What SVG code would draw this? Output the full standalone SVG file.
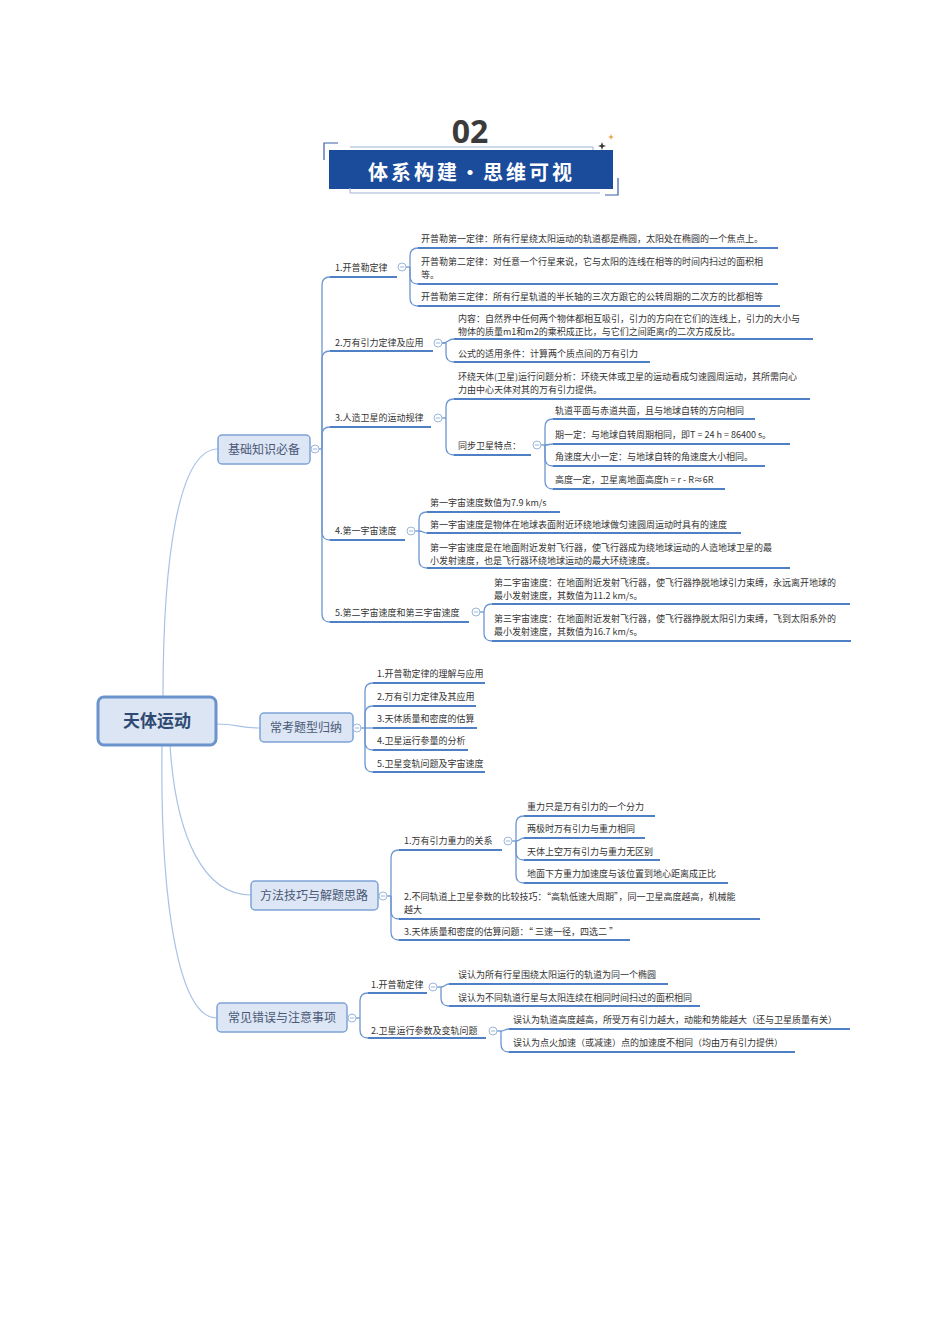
<svg xmlns="http://www.w3.org/2000/svg" width="950" height="1344" viewBox="0 0 950 1344">
<style>
text{font-family:"Noto Sans CJK SC","Liberation Sans",sans-serif;}
.t{font-size:9px;fill:#333;}
.b1{fill:#dce6f4;stroke:#7ea3d6;stroke-width:1.5;}
.b1t{font-size:12px;fill:#4a5876;}
.ul{stroke:#4f7fc4;stroke-width:2;fill:none;}
.cn{stroke:#6d96d2;stroke-width:1.3;fill:none;}
.rc{stroke:#a8c2e6;stroke-width:1.2;fill:none;}
.col{fill:#fff;stroke:#9cb6dc;stroke-width:1;}
.cm{stroke:#9cb6dc;stroke-width:1;}
</style>
<defs>
<g id="minus"><circle class="col" r="4"/><line class="cm" x1="-2.2" y1="0" x2="2.2" y2="0"/></g>
</defs>
<rect width="950" height="1344" fill="#fff"/>

<g id="header">
<text x="470" y="143" text-anchor="middle" style="font-family:'Open Sans','Liberation Sans',sans-serif;font-size:32px;font-weight:bold;fill:#3b3b3b">02</text>
<path d="M324,160 V143 H338" fill="none" stroke="#3a5fa8" stroke-width="1.2"/>
<path d="M350,147 H593 V152" fill="none" stroke="#9fb3d6" stroke-width="1"/>
<rect x="329" y="150" width="284" height="39" fill="#1b4b9b"/>
<path d="M350,188 V193 H600" fill="none" stroke="#9fb3d6" stroke-width="1"/>
<path d="M605,195 H618 V178" fill="none" stroke="#3a5fa8" stroke-width="1.2"/>
<path d="M602,142 L603,145 L606,146 L603,147 L602,150 L601,147 L598,146 L601,145 Z" fill="#333"/>
<path d="M611,134 L611.8,136.2 L614,137 L611.8,137.8 L611,140 L610.2,137.8 L608,137 L610.2,136.2 Z" fill="#e8a040"/>
<text x="368" y="180" style="font-family:'Noto Sans CJK SC',sans-serif;font-size:20px;font-weight:bold;fill:#fff;letter-spacing:3px">体系构建・思维可视</text>
</g>

<g id="connectors">
<path class="rc" d="M163,697 C163,560 178,449 218,449"/>
<path class="rc" d="M216,724 C240,724 238,728 260,728"/>
<path class="rc" d="M170,745 C176,840 205,895 251,895"/>
<path class="rc" d="M162,745 C160,900 178,1018 217,1018"/>
<path class="cn" d="M319,449 H322"/>
<path class="cn" d="M322,449 V285 Q322,277 330,277"/>
<path class="cn" d="M322,449 V359 Q322,351 330,351"/>
<path class="cn" d="M322,449 V435 Q322,427 330,427"/>
<path class="cn" d="M322,449 V532 Q322,540 330,540"/>
<path class="cn" d="M322,449 V614 Q322,622 330,622"/>
<path class="cn" d="M406,267 H410"/>
<path class="cn" d="M410,267 V256 Q410,248 418,248"/>
<path class="cn" d="M410,267 V276 Q410,284 418,284"/>
<path class="cn" d="M410,267 V298 Q410,306 418,306"/>
<path class="cn" d="M442,343 C449,343 447,339 454,339"/>
<path class="cn" d="M442,343 H446 V354 Q446,362 454,362"/>
<path class="cn" d="M442,418 H446"/>
<path class="cn" d="M446,418 V407 Q446,399 454,399"/>
<path class="cn" d="M446,418 V447 Q446,455 454,455"/>
<path class="cn" d="M541,445 H545"/>
<path class="cn" d="M545,445 V427 Q545,419 553,419"/>
<path class="cn" d="M545,445 C549,445 549,444 553,444"/>
<path class="cn" d="M545,445 V458 Q545,466 553,466"/>
<path class="cn" d="M545,445 V481 Q545,489 553,489"/>
<path class="cn" d="M415,531 H419"/>
<path class="cn" d="M419,531 V520 Q419,512 427,512"/>
<path class="cn" d="M419,531 C423,531 423,533 427,533"/>
<path class="cn" d="M419,531 V560 Q419,568 427,568"/>
<path class="cn" d="M480,612 H484"/>
<path class="cn" d="M484,612 Q484,604 492,604"/>
<path class="cn" d="M484,612 V633 Q484,641 492,641"/>
<path class="cn" d="M361,728 H365"/>
<path class="cn" d="M365,728 V691 Q365,683 373,683"/>
<path class="cn" d="M365,728 V714 Q365,706 373,706"/>
<path class="cn" d="M365,728 H373"/>
<path class="cn" d="M365,728 V742 Q365,750 373,750"/>
<path class="cn" d="M365,728 V764 Q365,772 373,772"/>
<path class="cn" d="M387,896 H391"/>
<path class="cn" d="M391,896 V858 Q391,850 399,850"/>
<path class="cn" d="M391,896 V911 Q391,919 399,919"/>
<path class="cn" d="M391,896 V932 Q391,940 399,940"/>
<path class="cn" d="M512,841 H516"/>
<path class="cn" d="M516,841 V824 Q516,816 524,816"/>
<path class="cn" d="M516,841 C520,841 520,838 524,838"/>
<path class="cn" d="M516,841 V852 Q516,860 524,860"/>
<path class="cn" d="M516,841 V875 Q516,883 524,883"/>
<path class="cn" d="M356,1018 H360"/>
<path class="cn" d="M360,1018 V1001 Q360,993 368,993"/>
<path class="cn" d="M360,1018 V1030 Q360,1038 368,1038"/>
<path class="cn" d="M437,987 H441"/>
<path class="cn" d="M441,987 C445,987 445,984 449,984"/>
<path class="cn" d="M441,987 V998 Q441,1006 449,1006"/>
<path class="cn" d="M497,1031 H501"/>
<path class="cn" d="M501,1031 C505,1031 505,1029 509,1029"/>
<path class="cn" d="M501,1031 V1044 Q501,1052 509,1052"/>
</g>

<g id="root">
<rect x="98" y="697" width="118" height="48" rx="6" fill="#dbe5f3" stroke="#6b93cc" stroke-width="3"/>
<text x="157" y="727" text-anchor="middle" style="font-size:17px;font-weight:bold;fill:#2f4a72">天体运动</text>
</g>

<g id="n-jichu">
<rect class="b1" x="218" y="435" width="92" height="29" rx="4"/>
<text class="b1t" x="264" y="454" text-anchor="middle">基础知识必备</text>
<use href="#minus" x="315" y="449"/>
</g>
<g id="n-jichu-1">
<text class="t" x="335" y="271">1.开普勒定律</text>
<line class="ul" x1="330" y1="277" x2="397" y2="277"/>
<use href="#minus" x="402" y="267"/>
</g>
<g id="n-kepler-1">
<text class="t" x="421" y="242">开普勒第一定律：所有行星绕太阳运动的轨道都是椭圆，太阳处在椭圆的一个焦点上。</text>
<line class="ul" x1="418" y1="248" x2="778" y2="248"/>
</g>
<g id="n-kepler-2">
<text class="t" x="421" y="265">开普勒第二定律：对任意一个行星来说，它与太阳的连线在相等的时间内扫过的面积相</text>
<text class="t" x="421" y="278">等。</text>
<line class="ul" x1="418" y1="284" x2="778" y2="284"/>
</g>
<g id="n-kepler-3">
<text class="t" x="421" y="300">开普勒第三定律：所有行星轨道的半长轴的三次方跟它的公转周期的二次方的比都相等</text>
<line class="ul" x1="418" y1="306" x2="780" y2="306"/>
</g>
<g id="n-jichu-2">
<text class="t" x="335" y="346">2.万有引力定律及应用</text>
<line class="ul" x1="330" y1="351" x2="433" y2="351"/>
<use href="#minus" x="438" y="343"/>
</g>
<g id="n-wanyou-1">
<text class="t" x="458" y="322">内容：自然界中任何两个物体都相互吸引，引力的方向在它们的连线上，引力的大小与</text>
<text class="t" x="458" y="335">物体的质量m1和m2的乘积成正比，与它们之间距离r的二次方成反比。</text>
<line class="ul" x1="454" y1="339" x2="813" y2="339"/>
</g>
<g id="n-wanyou-2">
<text class="t" x="458" y="357">公式的适用条件：计算两个质点间的万有引力</text>
<line class="ul" x1="454" y1="362" x2="650" y2="362"/>
</g>
<g id="n-jichu-3">
<text class="t" x="335" y="421">3.人造卫星的运动规律</text>
<line class="ul" x1="330" y1="427" x2="431" y2="427"/>
<use href="#minus" x="438" y="418"/>
</g>
<g id="n-weixing-1">
<text class="t" x="458" y="380">环绕天体(卫星)运行问题分析：环绕天体或卫星的运动看成匀速圆周运动，其所需向心</text>
<text class="t" x="458" y="393">力由中心天体对其的万有引力提供。</text>
<line class="ul" x1="454" y1="399" x2="810" y2="399"/>
</g>
<g id="n-weixing-2">
<text class="t" x="458" y="449">同步卫星特点：</text>
<line class="ul" x1="454" y1="455" x2="531" y2="455"/>
<use href="#minus" x="537" y="445"/>
</g>
<g id="n-tongbu-1">
<text class="t" x="555" y="414">轨道平面与赤道共面，且与地球自转的方向相同</text>
<line class="ul" x1="553" y1="419" x2="755" y2="419"/>
</g>
<g id="n-tongbu-2">
<text class="t" x="555" y="438">期一定：与地球自转周期相同，即T = 24 h = 86400 s。</text>
<line class="ul" x1="553" y1="444" x2="790" y2="444"/>
</g>
<g id="n-tongbu-3">
<text class="t" x="555" y="460">角速度大小一定：与地球自转的角速度大小相同。</text>
<line class="ul" x1="553" y1="466" x2="765" y2="466"/>
</g>
<g id="n-tongbu-4">
<text class="t" x="555" y="483">高度一定，卫星离地面高度h = r - R≈6R</text>
<line class="ul" x1="553" y1="489" x2="725" y2="489"/>
</g>
<g id="n-jichu-4">
<text class="t" x="335" y="534">4.第一宇宙速度</text>
<line class="ul" x1="330" y1="540" x2="405" y2="540"/>
<use href="#minus" x="411" y="531"/>
</g>
<g id="n-yuzhou1-1">
<text class="t" x="430" y="506">第一宇宙速度数值为7.9 km/s</text>
<line class="ul" x1="427" y1="512" x2="560" y2="512"/>
</g>
<g id="n-yuzhou1-2">
<text class="t" x="430" y="528">第一宇宙速度是物体在地球表面附近环绕地球做匀速圆周运动时具有的速度</text>
<line class="ul" x1="427" y1="533" x2="741" y2="533"/>
</g>
<g id="n-yuzhou1-3">
<text class="t" x="430" y="551">第一宇宙速度是在地面附近发射飞行器，使飞行器成为绕地球运动的人造地球卫星的最</text>
<text class="t" x="430" y="564">小发射速度，也是飞行器环绕地球运动的最大环绕速度。</text>
<line class="ul" x1="427" y1="568" x2="790" y2="568"/>
</g>
<g id="n-jichu-5">
<text class="t" x="335" y="616">5.第二宇宙速度和第三宇宙速度</text>
<line class="ul" x1="330" y1="622" x2="469" y2="622"/>
<use href="#minus" x="476" y="612"/>
</g>
<g id="n-yuzhou2">
<text class="t" x="494" y="586">第二宇宙速度：在地面附近发射飞行器，使飞行器挣脱地球引力束缚，永远离开地球的</text>
<text class="t" x="494" y="599">最小发射速度，其数值为11.2 km/s。</text>
<line class="ul" x1="492" y1="604" x2="850" y2="604"/>
</g>
<g id="n-yuzhou3">
<text class="t" x="494" y="622">第三宇宙速度：在地面附近发射飞行器，使飞行器挣脱太阳引力束缚，飞到太阳系外的</text>
<text class="t" x="494" y="635">最小发射速度，其数值为16.7 km/s。</text>
<line class="ul" x1="492" y1="641" x2="851" y2="641"/>
</g>

<g id="n-changkao">
<rect class="b1" x="260" y="713" width="93" height="29" rx="4"/>
<text class="b1t" x="306" y="732" text-anchor="middle">常考题型归纳</text>
<use href="#minus" x="357" y="728"/>
</g>
<g id="n-changkao-1"><text class="t" x="377" y="677">1.开普勒定律的理解与应用</text><line class="ul" x1="373" y1="683" x2="485" y2="683"/></g>
<g id="n-changkao-2"><text class="t" x="377" y="700">2.万有引力定律及其应用</text><line class="ul" x1="373" y1="706" x2="476" y2="706"/></g>
<g id="n-changkao-3"><text class="t" x="377" y="722">3.天体质量和密度的估算</text><line class="ul" x1="373" y1="728" x2="477" y2="728"/></g>
<g id="n-changkao-4"><text class="t" x="377" y="744">4.卫星运行参量的分析</text><line class="ul" x1="373" y1="750" x2="468" y2="750"/></g>
<g id="n-changkao-5"><text class="t" x="377" y="767">5.卫星变轨问题及宇宙速度</text><line class="ul" x1="373" y1="772" x2="485" y2="772"/></g>

<g id="n-fangfa">
<rect class="b1" x="251" y="881" width="127" height="29" rx="4"/>
<text class="b1t" x="314" y="900" text-anchor="middle">方法技巧与解题思路</text>
<use href="#minus" x="383" y="896"/>
</g>
<g id="n-fangfa-1">
<text class="t" x="404" y="844">1.万有引力重力的关系</text>
<line class="ul" x1="399" y1="850" x2="502" y2="850"/>
<use href="#minus" x="508" y="841"/>
</g>
<g id="n-guanxi-1"><text class="t" x="527" y="810">重力只是万有引力的一个分力</text><line class="ul" x1="524" y1="816" x2="655" y2="816"/></g>
<g id="n-guanxi-2"><text class="t" x="527" y="832">两极时万有引力与重力相同</text><line class="ul" x1="524" y1="838" x2="645" y2="838"/></g>
<g id="n-guanxi-3"><text class="t" x="527" y="855">天体上空万有引力与重力无区别</text><line class="ul" x1="524" y1="860" x2="660" y2="860"/></g>
<g id="n-guanxi-4"><text class="t" x="527" y="877">地面下方重力加速度与该位置到地心距离成正比</text><line class="ul" x1="524" y1="883" x2="728" y2="883"/></g>
<g id="n-fangfa-2">
<text class="t" x="404" y="900">2.不同轨道上卫星参数的比较技巧：“高轨低速大周期”，同一卫星高度越高，机械能</text>
<text class="t" x="404" y="913">越大</text>
<line class="ul" x1="399" y1="919" x2="760" y2="919"/>
</g>
<g id="n-fangfa-3">
<text class="t" x="404" y="935">3.天体质量和密度的估算问题：“ 三速一径，四选二 ”</text>
<line class="ul" x1="399" y1="940" x2="630" y2="940"/>
</g>

<g id="n-changjian">
<rect class="b1" x="217" y="1003" width="130" height="29" rx="4"/>
<text class="b1t" x="282" y="1022" text-anchor="middle">常见错误与注意事项</text>
<use href="#minus" x="352" y="1018"/>
</g>
<g id="n-changjian-1">
<text class="t" x="371" y="988">1.开普勒定律</text>
<line class="ul" x1="368" y1="993" x2="427" y2="993"/>
<use href="#minus" x="433" y="987"/>
</g>
<g id="n-cj1-1"><text class="t" x="458" y="978">误认为所有行星围绕太阳运行的轨道为同一个椭圆</text><line class="ul" x1="449" y1="984" x2="668" y2="984"/></g>
<g id="n-cj1-2"><text class="t" x="458" y="1001">误认为不同轨道行星与太阳连续在相同时间扫过的面积相同</text><line class="ul" x1="449" y1="1006" x2="700" y2="1006"/></g>
<g id="n-changjian-2">
<text class="t" x="371" y="1034">2.卫星运行参数及变轨问题</text>
<line class="ul" x1="368" y1="1038" x2="486" y2="1038"/>
<use href="#minus" x="493" y="1031"/>
</g>
<g id="n-cj2-1"><text class="t" x="513" y="1023">误认为轨道高度越高，所受万有引力越大，动能和势能越大（还与卫星质量有关）</text><line class="ul" x1="509" y1="1029" x2="850" y2="1029"/></g>
<g id="n-cj2-2"><text class="t" x="513" y="1046">误认为点火加速（或减速）点的加速度不相同（均由万有引力提供）</text><line class="ul" x1="509" y1="1052" x2="795" y2="1052"/></g>
</svg>
